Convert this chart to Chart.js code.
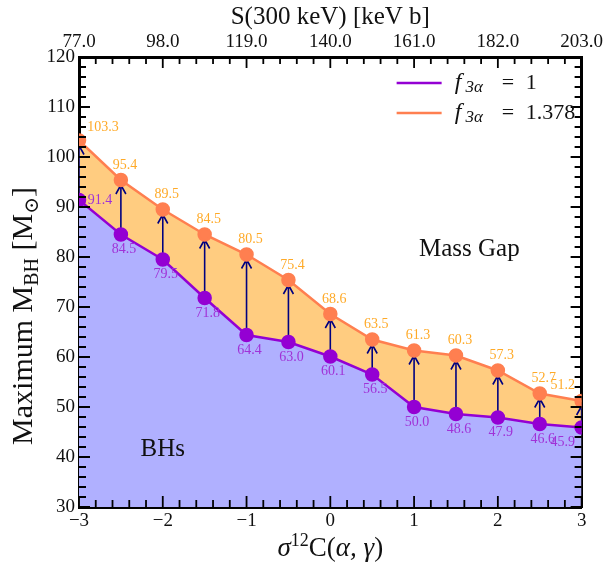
<!DOCTYPE html>
<html>
<head>
<meta charset="utf-8">
<script src="https://cdn.jsdelivr.net/npm/chart.js@4.4.1/dist/chart.umd.min.js"></script>
<style>
  html, body { margin: 0; padding: 0; background: #fff; }
  #wrap { width: 607px; height: 564px; }
</style>
</head>
<body>
<div id="wrap"><canvas id="chart" width="607" height="564"></canvas></div>
<script>
// valeurs
var sigmaC = [-3, -2.5, -2, -1.5, -1, -0.5, 0, 0.5, 1, 1.5, 2, 2.5, 3];
var mMaxF1 = [91.4, 84.5, 79.5, 71.8, 64.4, 63.0, 60.1, 56.5, 50.0, 48.6, 47.9, 46.6, 45.9];
var mMaxF1378 = [103.3, 95.4, 89.5, 84.5, 80.5, 75.4, 68.6, 63.5, 61.3, 60.3, 57.3, 52.7, 51.2];
var sTopTicks = [77.0, 98.0, 119.0, 140.0, 161.0, 182.0, 203.0];
var yTicks = [30, 40, 50, 60, 70, 80, 90, 100, 110, 120];

var PURPLE = 'rgb(148,0,211)';
var CORAL = 'rgb(255,127,80)';
var SERIF = '"Liberation Serif", "DejaVu Serif", serif';

function pts(arr) {
    return arr.map(function (v, i) { return { x: sigmaC[i], y: v }; });
}

function minus(v) { return String(v).replace('-', '\u2212'); }

// écrit une suite de morceaux [texte, taille, décalage y, italique]
function runs(ctx, parts, x, y, measureOnly) {
    var w = 0;
    parts.forEach(function (p) {
        ctx.font = (p[3] ? 'italic ' : '') + p[1] + 'px ' + SERIF;
        if (!measureOnly) ctx.fillText(p[0], x + w, y + p[2]);
        w += ctx.measureText(p[0]).width;
    });
    return w;
}

// ticks vers l'intérieur + flèches + annotations
var decor = {
    id: 'decor',
    beforeDatasetsDraw: function (chart) {
        var ctx = chart.ctx, a = chart.chartArea;
        var xs = chart.scales.x, ys = chart.scales.y;
        ctx.save();
        ctx.beginPath();
        ctx.rect(a.left, a.top, a.right - a.left, a.bottom - a.top);
        ctx.clip();
        ctx.strokeStyle = '#000080';
        ctx.lineWidth = 1.6;
        for (var i = 0; i < sigmaC.length; i++) {
            var px = xs.getPixelForValue(sigmaC[i]);
            var y0 = ys.getPixelForValue(mMaxF1[i]);
            var y1 = ys.getPixelForValue(mMaxF1378[i]) + 5;
            ctx.beginPath();
            ctx.moveTo(px, y0);
            ctx.lineTo(px, y1);
            ctx.moveTo(px - 5, y1 + 9);
            ctx.lineTo(px, y1);
            ctx.lineTo(px + 5, y1 + 9);
            ctx.stroke();
        }
        ctx.restore();
    },
    afterDatasetsDraw: function (chart) {
        var ctx = chart.ctx, a = chart.chartArea;
        var xs = chart.scales.x, ys = chart.scales.y;
        ctx.save();
        // ticks
        ctx.strokeStyle = '#000';
        ctx.lineWidth = 1.8;
        var v, p, major, len;
        for (var k = 0; k <= 30; k++) {
            v = -3 + k * 0.2;
            p = xs.getPixelForValue(v);
            major = (k % 5 === 0);
            len = major ? 11 : 7;
            ctx.beginPath();
            ctx.moveTo(p, a.bottom); ctx.lineTo(p, a.bottom - len);
            ctx.moveTo(p, a.top); ctx.lineTo(p, a.top + len);
            ctx.stroke();
        }
        for (k = 0; k <= 45; k++) {
            v = 30 + k * 2;
            p = ys.getPixelForValue(v);
            major = (k % 5 === 0);
            len = major ? 11 : 7;
            ctx.beginPath();
            ctx.moveTo(a.left, p); ctx.lineTo(a.left + len, p);
            ctx.moveTo(a.right, p); ctx.lineTo(a.right - len, p);
            ctx.stroke();
        }
        // étiquettes des points
        ctx.font = '14px ' + SERIF;
        ctx.textAlign = 'center';
        ctx.textBaseline = 'middle';
        var last = sigmaC.length - 1;
        for (var i = 0; i < sigmaC.length; i++) {
            var px = xs.getPixelForValue(sigmaC[i]);
            var dxO = 4, dyO = -15, dxP = 3, dyP = 15;
            if (i === 0) { dxO = 24; dyO = -13; dxP = 21; dyP = 0; }
            if (i === last) { dxO = -19; dyO = -16; dxP = -19; dyP = 15; }
            ctx.fillStyle = 'rgb(255,170,40)';
            ctx.fillText(mMaxF1378[i].toFixed(1), px + dxO, ys.getPixelForValue(mMaxF1378[i]) + dyO);
            ctx.fillStyle = 'rgb(160,50,215)';
            ctx.fillText(mMaxF1[i].toFixed(1), px + dxP, ys.getPixelForValue(mMaxF1[i]) + dyP);
        }
        // zones
        ctx.fillStyle = '#111';
        ctx.font = '25px ' + SERIF;
        ctx.fillText('Mass Gap', xs.getPixelForValue(1.66), ys.getPixelForValue(81.6));
        ctx.fillText('BHs', xs.getPixelForValue(-2.0), ys.getPixelForValue(41.6));
        // légende
        var lx = a.right - 185, tx = a.right - 127;
        var rows = [[PURPLE, '1', a.top + 26], [CORAL, '1.378', a.top + 56]];
        ctx.textAlign = 'left';
        rows.forEach(function (r) {
            ctx.strokeStyle = r[0];
            ctx.lineWidth = 2.5;
            ctx.beginPath();
            ctx.moveTo(lx, r[2]); ctx.lineTo(lx + 45, r[2]);
            ctx.stroke();
            ctx.fillStyle = '#111';
            runs(ctx, [['f', 24, 0, true], [' 3\u03b1', 17, 5, true]], tx, r[2]);
            runs(ctx, [['=', 22, 0, false]], tx + 47, r[2]);
            runs(ctx, [[r[1], 22, 0, false]], tx + 71, r[2]);
        });
        ctx.restore();
    },
    afterDraw: function (chart) {
        var ctx = chart.ctx, a = chart.chartArea;
        var cx = (a.left + a.right) / 2;
        ctx.save();
        ctx.fillStyle = '#111';
        ctx.textBaseline = 'alphabetic';
        ctx.textAlign = 'left';
        // titre haut
        var top = [['S(300 keV) [keV b]', 25, 0, false]];
        runs(ctx, top, cx - runs(ctx, top, 0, 0, true) / 2, 24);
        // titre bas : σ^12C(α, γ)
        var bot = [['\u03c3', 27, 0, true], ['12', 18, -10, false], ['C(', 27, 0, false],
                   ['\u03b1, \u03b3', 27, 0, true], [')', 27, 0, false]];
        runs(ctx, bot, cx - runs(ctx, bot, 0, 0, true) / 2, 556);
        // titre gauche : Maximum M_BH [M⊙]
        ctx.translate(32, 316);
        ctx.rotate(-Math.PI / 2);
        var lef = [['Maximum M', 30, 0, false], ['BH', 20, 6, false], [' [M', 30, 0, false],
                   ['\u2299', 20, 6, false], [']', 30, 0, false]];
        runs(ctx, lef, -runs(ctx, lef, 0, 0, true) / 2, 0);
        ctx.restore();
    }
};

var tickFont = { family: SERIF, size: 19 };
var noGrid = { display: false, drawTicks: false };
var frame = { display: true, width: 3, color: '#000' };

var ctx = document.getElementById('chart').getContext('2d');
var myChart = new Chart(ctx, {
    type: 'line',
    data: {
        datasets: [{
            label: 'f3a = 1',
            data: pts(mMaxF1),
            borderColor: PURPLE,
            backgroundColor: 'rgba(176,176,255,1)',
            pointBackgroundColor: PURPLE,
            pointBorderColor: PURPLE,
            pointRadius: 6,
            borderWidth: 2.5,
            fill: 'start'
        }, {
            label: 'f3a = 1.378',
            data: pts(mMaxF1378),
            borderColor: CORAL,
            backgroundColor: 'rgba(255,204,128,1)',
            pointBackgroundColor: CORAL,
            pointBorderColor: CORAL,
            pointRadius: 6,
            borderWidth: 2.5,
            fill: 0
        }]
    },
    options: {
        responsive: false,
        animation: false,
        layout: { padding: 0 },
        plugins: {
            legend: { display: false },
            tooltip: { enabled: false },
            filler: { drawTime: 'beforeDatasetsDraw' }
        },
        scales: {
            x: {
                type: 'linear', position: 'bottom', min: -3, max: 3,
                grid: noGrid, border: frame,
                afterFit: function (s) { s.height = 57; },
                ticks: { stepSize: 1, padding: 3, color: '#111', font: tickFont, maxRotation: 0,
                    callback: function (v) { return minus(v); } }
            },
            x2: {
                type: 'linear', position: 'top', min: -3, max: 3,
                grid: noGrid, border: frame,
                afterFit: function (s) { s.height = 57; },
                ticks: { stepSize: 1, padding: 4, color: '#111', font: tickFont, maxRotation: 0,
                    callback: function (v) { return sTopTicks[Math.round(v + 3)].toFixed(1); } }
            },
            y: {
                position: 'left', min: 30, max: 120,
                grid: noGrid, border: frame,
                afterFit: function (s) { s.width = 79; },
                afterBuildTicks: function (s) { s.ticks = yTicks.map(function (v) { return { value: v }; }); },
                ticks: { padding: 4, color: '#111', font: tickFont }
            },
            y2: {
                position: 'right', min: 30, max: 120,
                grid: noGrid, border: frame,
                afterFit: function (s) { s.width = 25; },
                ticks: { display: false }
            }
        }
    },
    plugins: [decor]
});
</script>
</body>
</html>
